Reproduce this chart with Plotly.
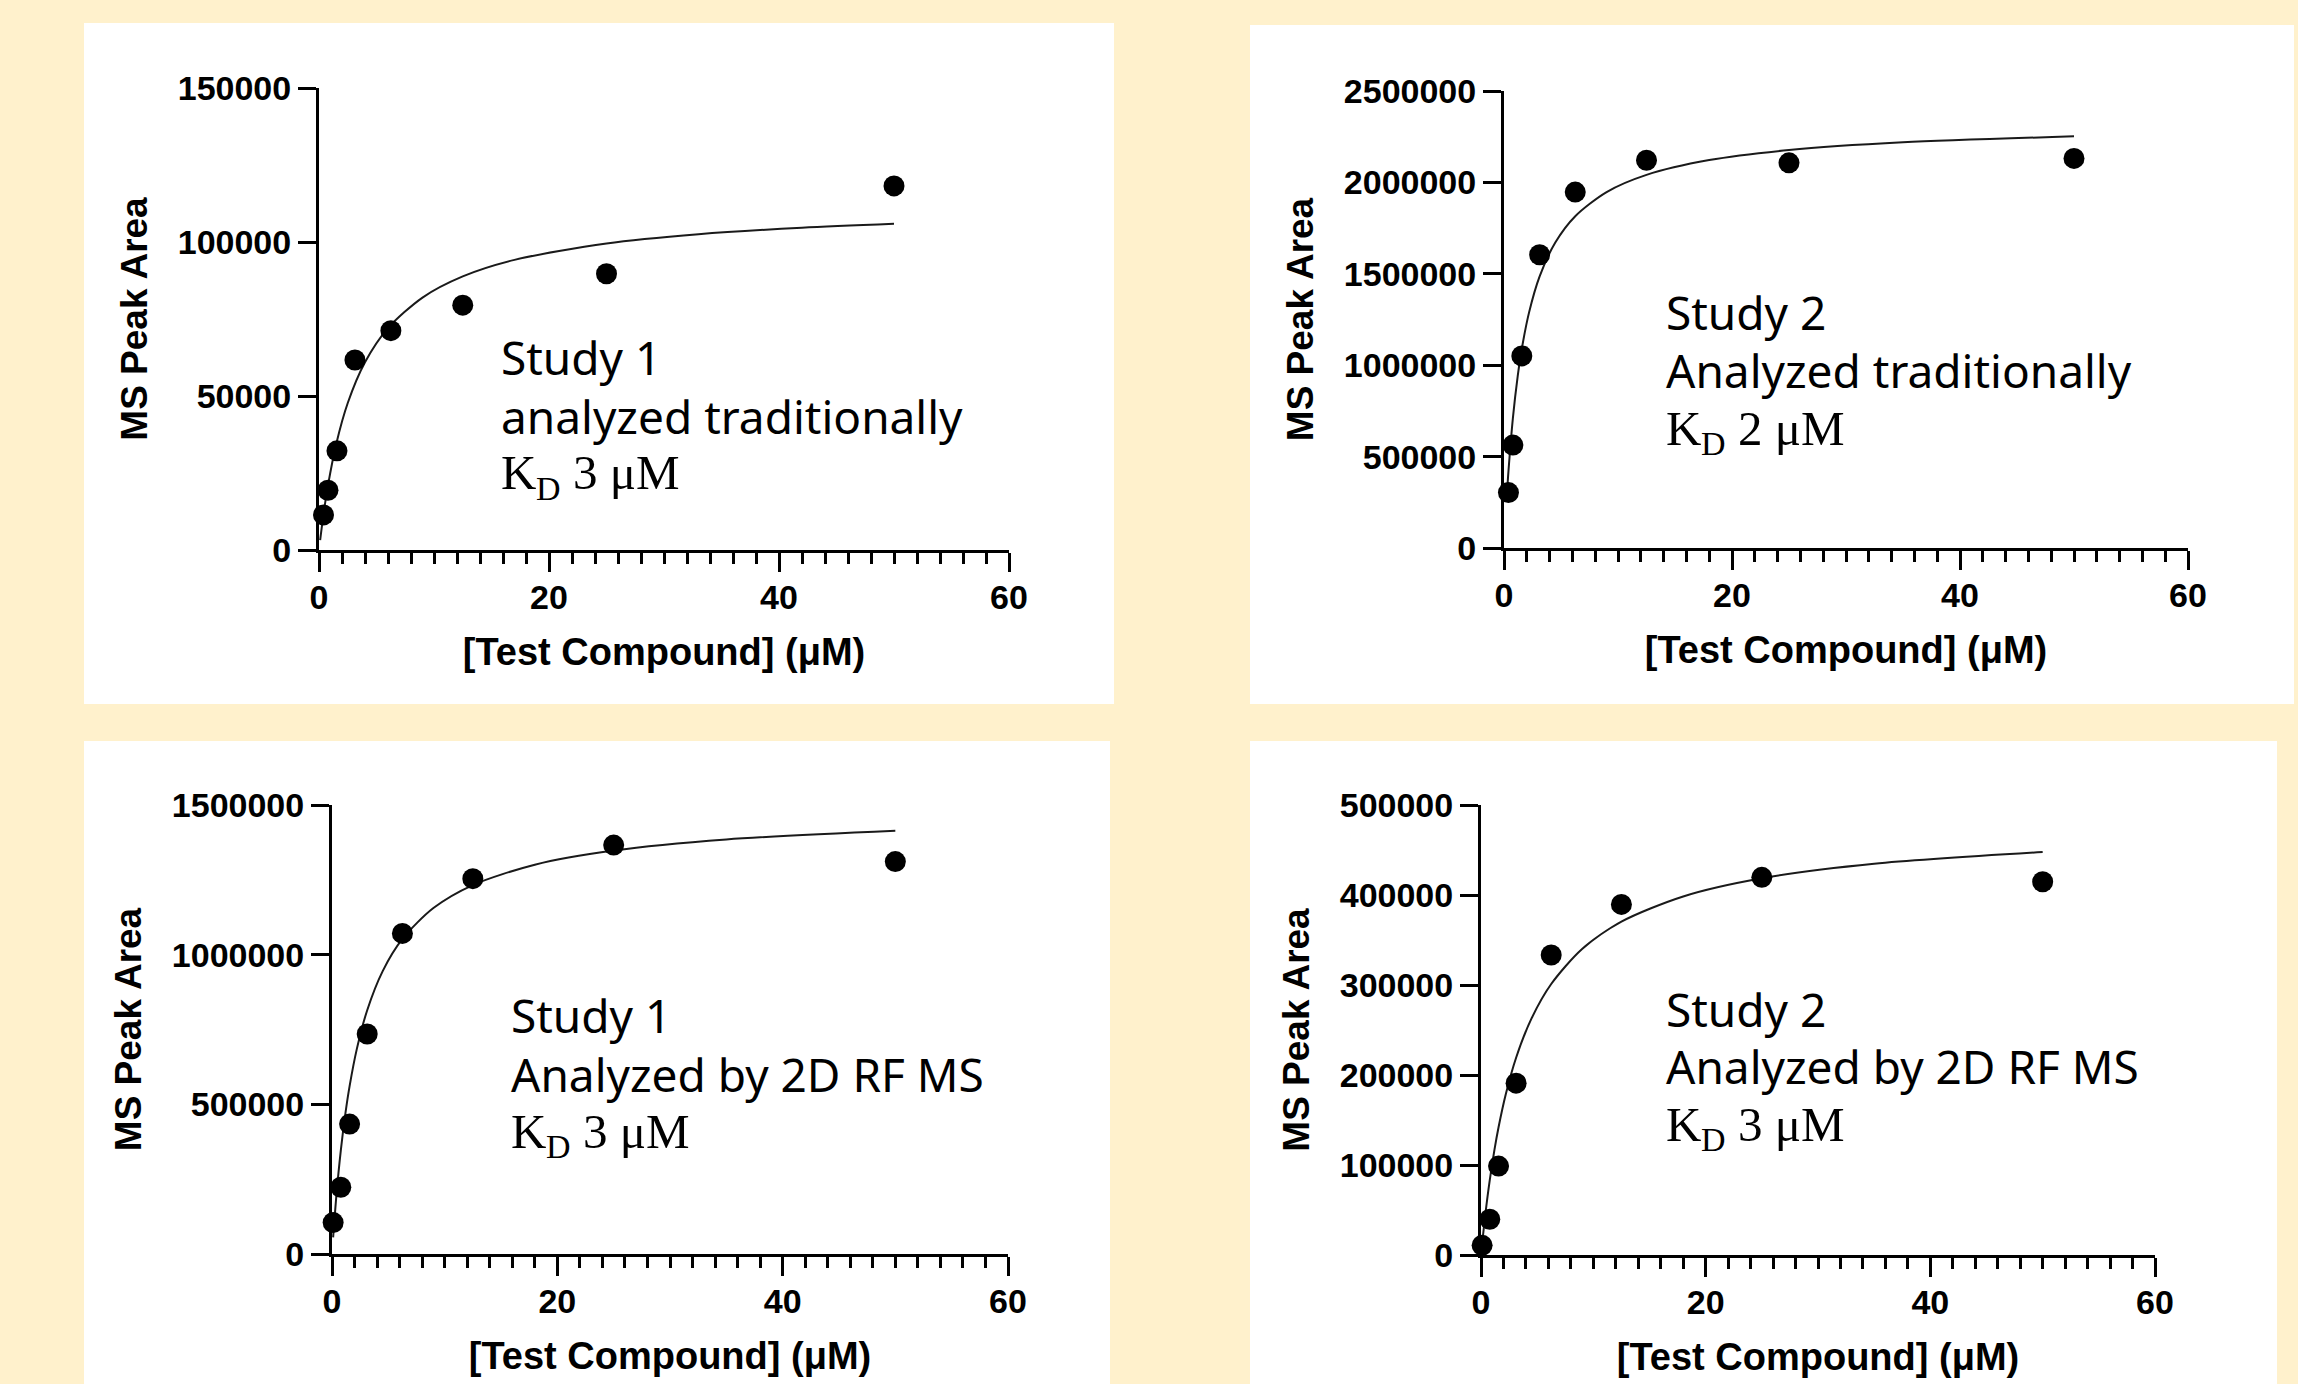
import plotly.graph_objects as go

W, H = 2298, 1384

# ---------------- data ----------------
conc_trad = [0.39, 0.78, 1.5625, 3.125, 6.25, 12.5, 25, 50]
conc_2drf = [0.1, 0.78, 1.5625, 3.125, 6.25, 12.5, 25, 50]

area_s1_trad = [11400, 19400, 32200, 61700, 71200, 79500, 89700, 118200]
area_s2_trad = [303000, 563000, 1051000, 1604000, 1947000, 2121000, 2107000, 2131000]
area_s1_2drf = [105000, 223000, 434000, 735000, 1071000, 1254000, 1366000, 1311000]
area_s2_2drf = [10700, 39700, 98800, 190900, 333300, 389500, 419600, 414700]

# fitted curves
fit_x_s1_trad = [0.1, 0.39, 0.78, 1.5, 2.5, 4, 6, 9, 12.5, 17, 25, 33, 42, 50]
fit_y_s1_trad = [3200, 11560, 20970, 34440, 47720, 60940, 72020, 81960, 88830, 94200, 99540, 102540, 104650, 105930]
fit_x_s2_trad = [0.25, 0.39, 0.78, 1.2, 1.5625, 2.2, 3.125, 4.5, 6.25, 9, 12.5, 18, 25, 35, 50]
fit_y_s2_trad = [287200, 419100, 710500, 939000, 1090100, 1289000, 1485700, 1671000, 1815000, 1947000, 2041000, 2122000, 2177000, 2219000, 2252000]
fit_x_2drf = [0.1, 0.39, 0.78, 1.2, 1.5625, 2.2, 3.125, 4.5, 6.25, 9, 12.5, 18, 25, 35, 50]
fit_y_s1_2drf = [55500, 195300, 345200, 472100, 560900, 684400, 814500, 945100, 1052500, 1155700, 1232600, 1300600, 1347900, 1384900, 1414000]
fit_y_s2_2drf = [12500, 45500, 83100, 117000, 141900, 178300, 219200, 262900, 301100, 340000, 370400, 398400, 418600, 434700, 447700]

x_ticks = [0, 20, 40, 60]
y_ticks_s1_trad = [0, 50000, 100000, 150000]
y_ticks_s2_trad = [0, 500000, 1000000, 1500000, 2000000, 2500000]
y_ticks_s1_2drf = [0, 500000, 1000000, 1500000]
y_ticks_s2_2drf = [0, 100000, 200000, 300000, 400000, 500000]

x_title = "[Test Compound] (μM)"
y_title = "MS Peak Area"

labels = [
    ("Study 1", "analyzed traditionally", "3 μM"),
    ("Study 2", "Analyzed traditionally", "2 μM"),
    ("Study 1", "Analyzed by 2D RF MS", "3 μM"),
    ("Study 2", "Analyzed by 2D RF MS", "3 μM"),
]

# ---------------- layout helpers (pixel geometry) ----------------
CREAM = "#FFF1CC"
BOLD = dict(family="Liberation Sans, Arial, sans-serif", color="black", weight="bold")
SERIF = "Liberation Serif, Times New Roman, serif"
KD_SIZE = 49
SUB_SIZE = 34


def px_x(p):
    return p / W


def px_y(p):
    return 1 - p / H


panels = [
    dict(box=(84, 23, 1114, 704), xa=(319, 1009), ya=(550, 88), ymax=150000,
         yt=y_ticks_s1_trad, cx=conc_trad, cy=area_s1_trad, fx=fit_x_s1_trad, fy=fit_y_s1_trad,
         lab=(499, 374, 433, 491)),
    dict(box=(1250, 25, 2294, 704), xa=(1504, 2188), ya=(548, 91), ymax=2500000,
         yt=y_ticks_s2_trad, cx=conc_trad, cy=area_s2_trad, fx=fit_x_s2_trad, fy=fit_y_s2_trad,
         lab=(1664, 329, 387, 446)),
    dict(box=(84, 741, 1110, 1384), xa=(332, 1008), ya=(1254, 805), ymax=1500000,
         yt=y_ticks_s1_2drf, cx=conc_2drf, cy=area_s1_2drf, fx=fit_x_2drf, fy=fit_y_s1_2drf,
         lab=(509, 1032, 1091, 1149)),
    dict(box=(1250, 741, 2277, 1384), xa=(1481, 2155), ya=(1255, 805), ymax=500000,
         yt=y_ticks_s2_2drf, cx=conc_2drf, cy=area_s2_2drf, fx=fit_x_2drf, fy=fit_y_s2_2drf,
         lab=(1664, 1026, 1083, 1142)),
]

fig = go.Figure()
shapes = []
annotations = []
layout_axes = {}

for i, p in enumerate(panels, start=1):
    xs = "" if i == 1 else str(i)
    xref, yref = "x" + xs, "y" + xs

    x0, y0, x1, y1 = p["box"]
    shapes.append(dict(type="rect", xref="paper", yref="paper",
                       x0=px_x(x0), x1=px_x(x1), y0=px_y(y1), y1=px_y(y0),
                       fillcolor="white", line=dict(width=0), layer="below"))

    fig.add_trace(go.Scatter(x=p["fx"], y=p["fy"], mode="lines",
                             line=dict(color="#1a1a1a", width=2, shape="spline", smoothing=0.8),
                             xaxis=xref, yaxis=yref, showlegend=False, hoverinfo="skip",
                             cliponaxis=False))
    fig.add_trace(go.Scatter(x=p["cx"], y=p["cy"], mode="markers",
                             marker=dict(color="black", size=21, line=dict(width=0)),
                             xaxis=xref, yaxis=yref, showlegend=False, cliponaxis=False))

    layout_axes["xaxis" + xs] = dict(
        domain=[px_x(p["xa"][0]), px_x(p["xa"][1])], range=[0, 60], anchor=yref,
        automargin=False,
        showgrid=False, zeroline=False, showline=True, linecolor="black", linewidth=3,
        ticks="outside", ticklen=19, tickwidth=3, tickcolor="black",
        tickvals=x_ticks, tickfont=dict(size=34, **BOLD), ticklabelstandoff=-4,
        minor=dict(tickvals=list(range(0, 61, 2)), ticks="outside", ticklen=11, tickwidth=3,
                   tickcolor="black", showgrid=False),
        title=dict(text=x_title, font=dict(size=38, **BOLD), standoff=24),
        fixedrange=True,
    )
    layout_axes["yaxis" + xs] = dict(
        domain=[px_y(p["ya"][0]), px_y(p["ya"][1])], range=[0, p["ymax"]], anchor=xref,
        automargin=False,
        showgrid=False, zeroline=False, showline=True, linecolor="black", linewidth=3,
        ticks="outside", ticklen=18, tickwidth=3, tickcolor="black",
        tickvals=p["yt"], ticktext=[str(v) for v in p["yt"]],
        tickfont=dict(size=34, **BOLD),
        title=dict(text=y_title, font=dict(size=37, **BOLD), standoff=19),
        fixedrange=True,
    )

    # study labels
    lx, b1, b2, b3 = p["lab"]
    study, method, kd = labels[i - 1]
    sans = dict(family="Noto Sans, Open Sans, sans-serif", size=46, color="black")
    for txt, base in ((study, b1), (method, b2)):
        annotations.append(dict(xref="paper", yref="paper", x=px_x(lx), y=px_y(base - 17),
                                text=txt, showarrow=False, xanchor="left", yanchor="middle",
                                font=sans))
    # K with subscript D, then the value (separate pieces, serif like the original)
    k_adv = 0.722 * KD_SIZE
    d_adv = 0.722 * SUB_SIZE
    annotations.append(dict(xref="paper", yref="paper", x=px_x(lx), y=px_y(b3 - 18),
                            text="K", showarrow=False, xanchor="left", yanchor="middle",
                            font=dict(family=SERIF, size=KD_SIZE, color="black")))
    annotations.append(dict(xref="paper", yref="paper", x=px_x(lx + k_adv), y=px_y(b3 - 3),
                            text="D", showarrow=False, xanchor="left", yanchor="middle",
                            font=dict(family=SERIF, size=SUB_SIZE, color="black")))
    annotations.append(dict(xref="paper", yref="paper", x=px_x(lx + k_adv + d_adv + 0.25 * KD_SIZE),
                            y=px_y(b3 - 18), text=kd, showarrow=False, xanchor="left", yanchor="middle",
                            font=dict(family=SERIF, size=KD_SIZE, color="black")))

fig.update_layout(
    width=W, height=H, margin=dict(l=0, r=0, t=0, b=0, pad=0),
    paper_bgcolor=CREAM, plot_bgcolor="rgba(0,0,0,0)",
    shapes=shapes, annotations=annotations, showlegend=False,
    **layout_axes,
)

fig.write_html(
    "out.html",
    config={"displayModeBar": False},
    post_script="document.body.style.margin='0';document.body.style.padding='0';"
                "document.body.style.overflow='hidden';document.body.style.background='" + CREAM + "';",
)
